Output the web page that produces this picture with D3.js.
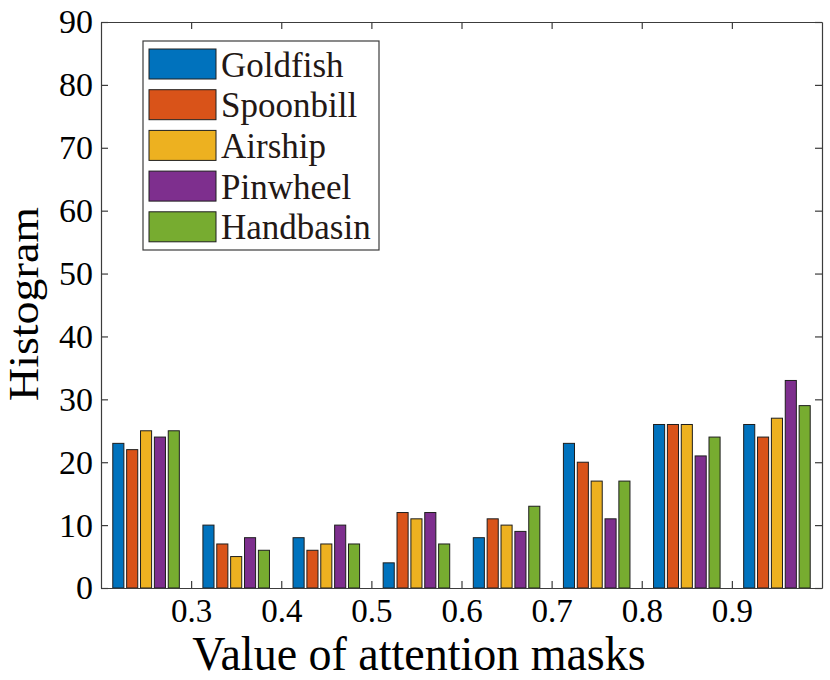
<!DOCTYPE html>
<html>
<head>
<meta charset="utf-8">
<script src="https://cdn.jsdelivr.net/npm/d3@7"></script>
<style>
  html, body { margin: 0; padding: 0; background: #fff; }
  svg { display: block; }
  text { font-family: "Liberation Serif", "Times New Roman", serif; }
</style>
</head>
<body>
<div id="chart"></div>
<script>
// ---- data ----
const binCenters = [0.25, 0.35, 0.45, 0.55, 0.65, 0.75, 0.85, 0.95];
const seriesNames = ["Goldfish", "Spoonbill", "Airship", "Pinwheel", "Handbasin"];
const goldfish  = [23, 10, 8, 4, 8, 23, 26, 26];
const spoonbill = [22, 7, 6, 12, 11, 20, 26, 24];
const airship   = [25, 5, 7, 11, 10, 17, 26, 27];
const pinwheel  = [24, 8, 10, 12, 9, 11, 21, 33];
const handbasin = [25, 6, 7, 7, 13, 17, 24, 29];
const xTickValues = [0.3, 0.4, 0.5, 0.6, 0.7, 0.8, 0.9];
const xTickLabels = ["0.3", "0.4", "0.5", "0.6", "0.7", "0.8", "0.9"];
const yTickValues = [0, 10, 20, 30, 40, 50, 60, 70, 80, 90];
const colors = ["#0072BD", "#D95319", "#EDB120", "#7E2F8E", "#77AC30"];

const allSeries = [goldfish, spoonbill, airship, pinwheel, handbasin];

// ---- layout ----
const W = 830, H = 680;
const pL = 101, pR = 822, pT = 22, pB = 588;
const serif = '"Liberation Serif", "Times New Roman", serif';

const svg = d3.select("#chart").append("svg")
  .attr("width", W).attr("height", H);

const x = d3.scaleLinear().domain([0.2, 1.0]).range([pL, pR]);
const y = d3.scaleLinear().domain([0, 90]).range([pB, pT]);

// MATLAB-style grouped bar geometry
const binWidth = 0.1;
const nS = allSeries.length;
const groupWidth = Math.min(0.8, nS / (nS + 1.5)) * binWidth;
const slot = groupWidth / nS;
const barW = 0.8 * slot;

// bars
const gBars = svg.append("g");
allSeries.forEach((vals, j) => {
  gBars.selectAll(null)
    .data(vals.map((v, i) => ({ v, c: binCenters[i] })))
    .enter().append("rect")
    .attr("x", d => x(d.c + (j - (nS - 1) / 2) * slot - barW / 2))
    .attr("width", d => x(d.c + barW / 2) - x(d.c - barW / 2))
    .attr("y", d => y(d.v))
    .attr("height", d => y(0) - y(d.v))
    .attr("fill", colors[j])
    .attr("stroke", "#1e1e1e")
    .attr("stroke-width", 1);
});

// axes (box with inward ticks)
const axisColor = "#3c3c3c";
const tickLen = 7;

const xAxisB = d3.axisBottom(x).tickValues(xTickValues)
  .tickFormat((d, i) => xTickLabels[i]).tickSizeInner(-tickLen).tickSizeOuter(0).tickPadding(11);
const gxb = svg.append("g").attr("transform", `translate(0,${pB})`).call(xAxisB);

const xAxisT = d3.axisTop(x).tickValues(xTickValues).tickFormat("")
  .tickSizeInner(-tickLen).tickSizeOuter(0);
const gxt = svg.append("g").attr("transform", `translate(0,${pT})`).call(xAxisT);

const yAxisL = d3.axisLeft(y).tickValues(yTickValues).tickFormat(d3.format("d"))
  .tickSizeInner(-tickLen).tickSizeOuter(0).tickPadding(8);
const gyl = svg.append("g").attr("transform", `translate(${pL},0)`).call(yAxisL);

const yAxisR = d3.axisRight(y).tickValues(yTickValues).tickFormat("")
  .tickSizeInner(-tickLen).tickSizeOuter(0);
const gyr = svg.append("g").attr("transform", `translate(${pR},0)`).call(yAxisR);

[gxb, gxt, gyl, gyr].forEach(g => {
  g.attr("font-family", serif);
  g.select(".domain").attr("stroke", axisColor).attr("stroke-width", 1.2);
  g.selectAll(".tick line").attr("stroke", axisColor).attr("stroke-width", 1.2);
  g.selectAll(".tick text")
    .attr("fill", "#000")
    .style("font-family", serif)
    .style("font-size", "33px");
});
gyl.selectAll(".tick text").style("font-size", "34px");

// axis labels
svg.append("text")
  .attr("transform", "translate(419,669.5) scale(1,1.04)")
  .attr("text-anchor", "middle")
  .style("font-size", "46px")
  .attr("fill", "#000")
  .text("Value of attention masks");

svg.append("text")
  .attr("transform", "translate(38,304) rotate(-90) scale(1,0.9)")
  .attr("text-anchor", "middle")
  .style("font-size", "46px")
  .attr("fill", "#000")
  .text("Histogram");

// legend
const lg = svg.append("g");
const lgX = 143, lgY = 41, lgW = 236, lgH = 209;
lg.append("rect")
  .attr("x", lgX).attr("y", lgY).attr("width", lgW).attr("height", lgH)
  .attr("fill", "#fff").attr("stroke", "#3c3c3c").attr("stroke-width", 1.2);

const rowStep = 40.7;
seriesNames.forEach((name, j) => {
  const cy = 64 + j * rowStep;
  lg.append("rect")
    .attr("x", 149).attr("y", cy - 15).attr("width", 67).attr("height", 30)
    .attr("fill", colors[j]).attr("stroke", "#1e1e1e").attr("stroke-width", 1);
  lg.append("text")
    .attr("x", 221).attr("y", cy + 12.5)
    .style("font-size", "35px")
    .attr("fill", "#231815")
    .text(name);
});
</script>
</body>
</html>
